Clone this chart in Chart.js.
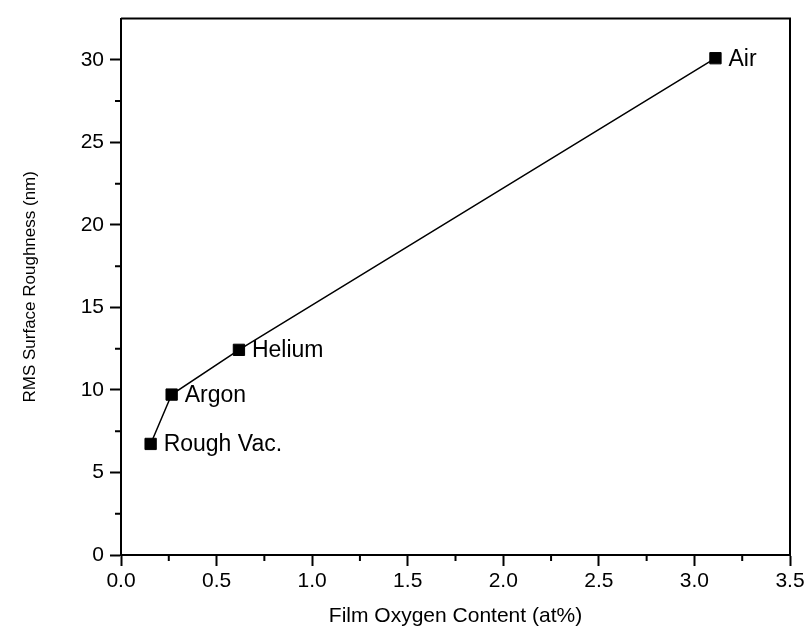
<!DOCTYPE html>
<html>
<head>
<meta charset="utf-8">
<script src="https://cdn.jsdelivr.net/npm/chart.js@4/dist/chart.umd.min.js"></script>
<style>
  body { margin: 0; background: #fff; }
  #contenedor { width: 812px; height: 633px; position: relative; }
</style>
</head>
<body>
<div id="contenedor"><canvas id="grafico"></canvas></div>
<script>
// Datos
const atmosferas = ['Rough Vac.', 'Argon', 'Helium', 'Air'];
const oxigeno = [0.155, 0.265, 0.617, 3.11];      // at%
const rugosidad = [6.73, 9.72, 12.43, 30.1];      // nm

// Marcas de los ejes
const ticksX = [0, 0.5, 1.0, 1.5, 2.0, 2.5, 3.0, 3.5];
const ticksY = [0, 5, 10, 15, 20, 25, 30];
const menoresX = [0.25, 0.75, 1.25, 1.75, 2.25, 2.75, 3.25];
const menoresY = [2.5, 7.5, 12.5, 17.5, 22.5, 27.5];

const fuente = 'Liberation Sans, Arial, sans-serif';

// Plugin: marco superior/derecho, marcas menores y etiquetas de puntos
const marcoYEtiquetas = {
  id: 'marcoYEtiquetas',
  afterDraw(chart) {
    const ctx = chart.ctx;
    const area = chart.chartArea;
    const sx = chart.scales.x;
    const sy = chart.scales.y;
    ctx.save();
    ctx.strokeStyle = '#000';
    ctx.lineWidth = 2;
    // marco
    ctx.beginPath();
    ctx.moveTo(area.left, area.top);
    ctx.lineTo(area.right, area.top);
    ctx.lineTo(area.right, area.bottom);
    ctx.stroke();
    // marcas menores
    ctx.beginPath();
    menoresX.forEach((v) => {
      const px = sx.getPixelForValue(v);
      ctx.moveTo(px, area.bottom);
      ctx.lineTo(px, area.bottom + 6);
    });
    menoresY.forEach((v) => {
      const py = sy.getPixelForValue(v);
      ctx.moveTo(area.left, py);
      ctx.lineTo(area.left - 6, py);
    });
    ctx.stroke();
    // etiquetas junto a cada punto
    const meta = chart.getDatasetMeta(0);
    ctx.fillStyle = '#000';
    ctx.font = '23px ' + fuente;
    ctx.textAlign = 'left';
    ctx.textBaseline = 'middle';
    meta.data.forEach((p, i) => {
      ctx.fillText(atmosferas[i], p.x + 13, p.y + 1);
    });
    ctx.restore();
  }
};

const canvas = document.getElementById('grafico');
new Chart(canvas, {
  type: 'line',
  data: {
    datasets: [{
      data: oxigeno.map((x, i) => ({ x: x, y: rugosidad[i] })),
      borderColor: '#000',
      borderWidth: 1.5,
      pointStyle: 'rect',
      pointRadius: 8,
      pointBackgroundColor: '#000',
      pointBorderColor: '#000',
      pointBorderWidth: 1,
      tension: 0,
    }],
  },
  options: {
    responsive: true,
    maintainAspectRatio: false,
    animation: false,
    layout: { padding: { top: 13, right: 22, left: 0, bottom: 0 } },
    plugins: {
      legend: { display: false },
      tooltip: { enabled: false },
    },
    scales: {
      x: {
        type: 'linear',
        position: 'bottom',
        min: 0,
        max: 3.5,
        afterBuildTicks: (s) => { s.ticks = ticksX.map((v) => ({ value: v })); },
        afterFit: (s) => { s.height = 78; },
        grid: { drawOnChartArea: false, tickLength: 11, tickWidth: 2, tickColor: '#000' },
        border: { color: '#000', width: 2 },
        ticks: {
          color: '#000',
          font: { family: fuente, size: 21 },
          padding: 3,
          maxRotation: 0,
          callback: (v) => Number(v).toFixed(1),
        },
        title: {
          display: true,
          text: 'Film Oxygen Content (at%)',
          color: '#000',
          font: { family: fuente, size: 21 },
          padding: { top: 4, bottom: 4 },
        },
      },
      y: {
        type: 'linear',
        min: 0,
        max: 32.5,
        afterBuildTicks: (s) => { s.ticks = ticksY.map((v) => ({ value: v })); },
        afterFit: (s) => { s.width = 121; },
        grid: { drawOnChartArea: false, tickLength: 11, tickWidth: 2, tickColor: '#000' },
        border: { color: '#000', width: 2 },
        ticks: {
          color: '#000',
          font: { family: fuente, size: 21 },
          padding: 6,
          callback: (v) => String(v),
        },
        title: {
          display: true,
          text: 'RMS Surface Roughness (nm)',
          color: '#000',
          font: { family: fuente, size: 17 },
          padding: { top: 20, bottom: 20 },
        },
      },
    },
  },
  plugins: [marcoYEtiquetas],
});
</script>
</body>
</html>
